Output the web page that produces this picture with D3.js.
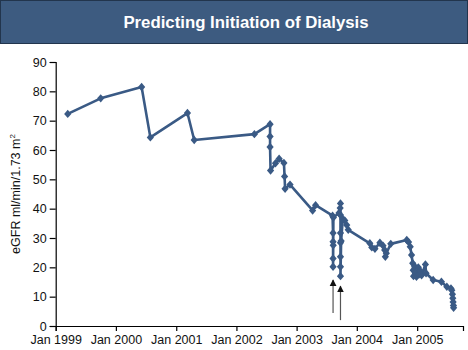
<!DOCTYPE html>
<html>
<head>
<meta charset="utf-8">
<script src="https://cdn.jsdelivr.net/npm/d3@7"></script>
<style>
body { margin: 0; background: #fff; }
svg text { font-family: "Liberation Sans", Arial, Helvetica, sans-serif; }
</style>
</head>
<body>
<svg id="chart" width="468" height="350"></svg>

<script>

var title = "Predicting Initiation of Dialysis";
var yLabel = "eGFR ml/min/1.73 m";

var dates = [
  "1999-03-15","1999-10-01","2000-06-05","2000-07-28","2001-03-10","2001-04-20",
  "2002-04-20","2002-07-24","2002-07-24","2002-07-24","2002-07-27","2002-08-26",
  "2002-09-17","2002-10-16","2002-10-20","2002-10-23","2002-11-22","2003-04-08",
  "2003-04-26","2003-08-07","2003-08-10","2003-08-10","2003-08-10","2003-08-10",
  "2003-08-11","2003-08-12","2003-09-15","2003-09-22","2003-09-24","2003-09-24",
  "2003-09-24","2003-09-24","2003-09-24","2003-09-24","2003-09-24","2003-09-28",
  "2003-10-08","2003-10-20","2003-11-01","2003-11-10","2004-03-20","2004-04-01",
  "2004-04-20","2004-05-20","2004-06-08","2004-06-18","2004-06-22","2004-06-28",
  "2004-07-25","2004-10-30","2004-11-10","2004-11-20","2004-11-28","2004-12-05",
  "2004-12-08","2004-12-10","2004-12-18","2004-12-22","2004-12-28","2005-01-08",
  "2005-01-12","2005-01-20","2005-01-28","2005-02-20","2005-02-24","2005-04-08",
  "2005-05-28","2005-06-30","2005-07-25","2005-07-30","2005-08-03","2005-08-05",
  "2005-08-07","2005-08-09","2005-08-10"
];
var egfr = [
  72.3, 77.6, 81.5, 64.3, 72.6, 63.4,
  65.4, 68.8, 64.6, 61.0, 53.0, 55.5,
  57.0, 55.6, 51.0, 46.8, 48.2, 39.4,
  41.2, 37.6, 31.7, 28.7, 23.0, 20.2,
  27.5, 37.0, 38.5, 40.2, 41.8, 37.8,
  31.7, 28.4, 23.6, 20.2, 17.0, 29.0,
  36.5, 36.0, 34.4, 32.8, 28.2, 26.8,
  26.3, 28.4, 27.4, 25.9, 23.6, 24.8,
  28.0, 29.3, 28.6, 27.0, 24.2, 21.4,
  19.0, 17.0, 20.3, 18.2, 16.8, 20.0,
  17.5, 18.8, 17.3, 21.0, 18.0, 15.7,
  15.1, 13.4, 12.8, 12.2, 10.8, 9.5,
  8.2, 7.0, 6.2
];

/// arrows marking the two events (date, tail value, tip value)
var arrowDates = ["2003-08-10", "2003-09-24"];
var arrowTail = [4.4, 2.0];
var arrowTip = [15.7, 13.6];

var yTicks = [0, 10, 20, 30, 40, 50, 60, 70, 80, 90];
var xTicks = ["1999-01-01","2000-01-01","2001-01-01","2002-01-01","2003-01-01","2004-01-01","2005-01-01"];
var xDomain = ["1999-01-01", "2005-10-06"];

var parse = d3.timeParse("%Y-%m-%d");
var data = dates.map(function(d, i){ return {x: parse(d), y: egfr[i]}; });

var svg = d3.select("#chart");

/// title bar
svg.append("rect")
    .attr("x", 0.5).attr("y", 0.5)
    .attr("width", 467).attr("height", 43)
    .attr("fill", "#3d5b80")
    .attr("stroke", "#22354d");
svg.append("text")
    .attr("x", 246).attr("y", 27.5)
    .attr("text-anchor", "middle")
    .attr("fill", "#fff")
    .attr("font-size", "16.8px")
    .attr("font-weight", "bold")
    .text(title);

var margin = {top: 62, right: 5, bottom: 24, left: 55.7};
var width = 463 - margin.left;
var height = 326 - margin.top;

var g = svg.append("g").attr("transform", "translate(" + margin.left + "," + margin.top + ")");

var x = d3.scaleTime()
    .domain(xDomain.map(parse))
    .range([0, width]);

var y = d3.scaleLinear()
    .domain([0, 90])
    .range([height, 0]);

var xAxis = d3.axisBottom(x)
    .tickValues(xTicks.map(parse))
    .tickFormat(d3.timeFormat("Jan %Y"))
    .tickSizeOuter(0).tickSize(5).tickPadding(4);
var yAxis = d3.axisLeft(y)
    .tickValues(yTicks)
    .tickSizeOuter(0).tickSize(6).tickPadding(3);

g.append("g")
    .attr("class", "axis axis--x")
    .attr("transform", "translate(0," + height + ")")
    .call(xAxis);

g.append("g")
    .attr("class", "axis axis--y")
    .call(yAxis);

g.selectAll(".axis path, .axis line").attr("stroke", "#000").attr("stroke-width", 1.2);
g.selectAll(".axis text").attr("font-size", "12.5px").attr("fill", "#111")
    .attr("font-family", "'Liberation Sans', Arial, sans-serif");

/// y label
var yl = svg.append("text")
    .attr("transform", "translate(20," + (margin.top + height / 2) + ") rotate(-90)")
    .attr("text-anchor", "middle")
    .attr("font-size", "12.5px")
    .attr("fill", "#111");
yl.append("tspan").text(yLabel);
yl.append("tspan").attr("dy", -5).attr("font-size", "8px").text("2");

/// arrows
var defs = svg.append("defs");
defs.append("marker")
    .attr("id", "head")
    .attr("viewBox", "0 0 10 10")
    .attr("refX", 9).attr("refY", 5)
    .attr("markerWidth", 7).attr("markerHeight", 8)
    .attr("markerUnits", "userSpaceOnUse")
    .attr("orient", "auto")
  .append("path")
    .attr("d", "M0,0 L10,5 L0,10 Z")
    .attr("fill", "#111");

arrowDates.forEach(function(d, i){
  g.append("line")
    .attr("x1", x(parse(d))).attr("x2", x(parse(d)))
    .attr("y1", y(arrowTail[i])).attr("y2", y(arrowTip[i]))
    .attr("stroke", "#555")
    .attr("stroke-width", 1.2)
    .attr("marker-end", "url(#head)");
});

/// line
var line = d3.line()
    .x(function(d){ return x(d.x); })
    .y(function(d){ return y(d.y); });

g.append("path")
    .datum(data)
    .attr("fill", "none")
    .attr("stroke", "#3a5a85")
    .attr("stroke-width", 2.6)
    .attr("stroke-linejoin", "round")
    .attr("d", line);

/// diamond markers
g.selectAll(".pt")
    .data(data)
  .enter().append("path")
    .attr("class", "pt")
    .attr("transform", function(d){ return "translate(" + x(d.x) + "," + y(d.y) + ")"; })
    .attr("d", "M0,-4.2 L3.6,0 L0,4.2 L-3.6,0 Z")
    .attr("fill", "#3a5a85");

</script>
</body>
</html>
